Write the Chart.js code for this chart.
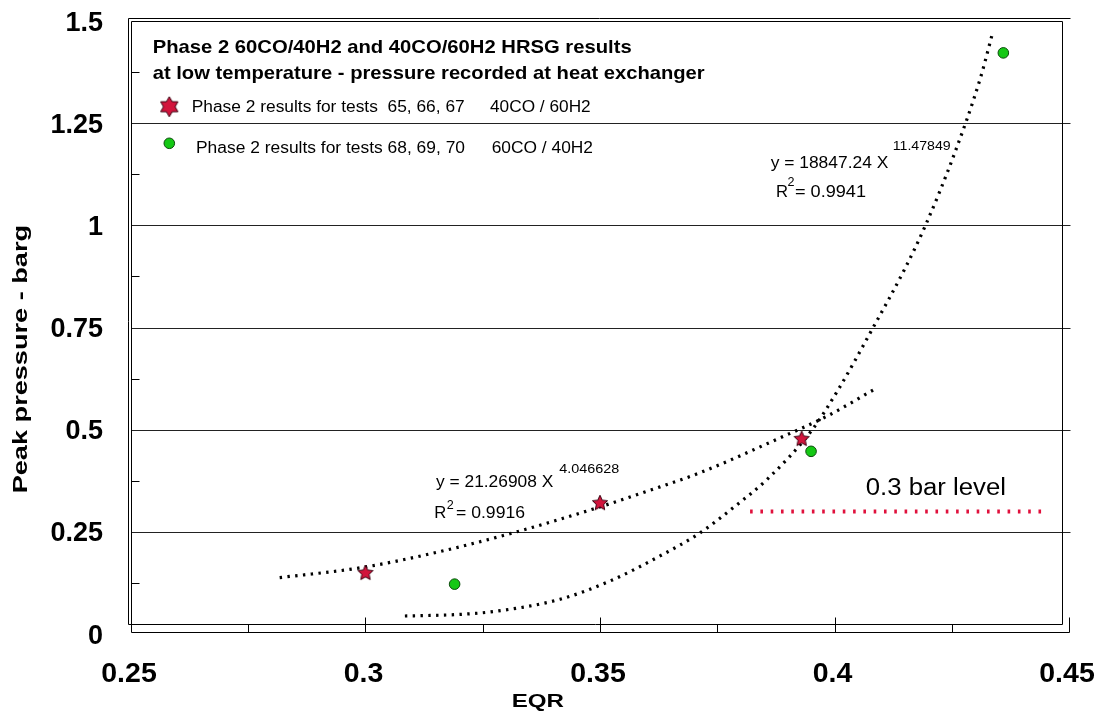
<!DOCTYPE html>
<html><head><meta charset="utf-8">
<script src="https://cdn.jsdelivr.net/npm/chart.js@4/dist/chart.umd.min.js"></script>
<style>html,body{margin:0;padding:0;background:#fff;}#wrap{width:1101px;height:713px;}</style>
</head><body><div id="wrap"><canvas id="c" width="1101" height="713"></canvas></div>
<script>
// ---- data ----
const redX = [0.300, 0.350, 0.393];
const redY = [0.149, 0.320, 0.477];
const greenX = [0.319, 0.395, 0.436];
const greenY = [0.122, 0.447, 1.422];
const redTrendX = [0.2817, 0.2989, 0.3145, 0.3316, 0.3486, 0.3628, 0.3714, 0.3884, 0.3984, 0.4087];
const redTrendY = [0.138, 0.162, 0.198, 0.248, 0.306, 0.360, 0.395, 0.480, 0.533, 0.600];
const greenTrendX = [0.3084, 0.3202, 0.3273, 0.3415, 0.3522, 0.3628, 0.3714, 0.3785, 0.3856, 0.3952, 0.4009, 0.4081, 0.4151, 0.4194, 0.4254, 0.4311, 0.4336];
const greenTrendY = [0.044, 0.048, 0.055, 0.085, 0.130, 0.191, 0.248, 0.310, 0.378, 0.499, 0.600, 0.747, 0.896, 1.000, 1.170, 1.360, 1.466];
const levelX = [0.382, 0.4455];
const levelY = [0.3, 0.3];
const xTickValues = [0.25, 0.3, 0.35, 0.4, 0.45];
const xTickLabels = ['0.25', '0.3', '0.35', '0.4', '0.45'];
const yTickValues = [0, 0.25, 0.5, 0.75, 1, 1.25, 1.5];
const yTickLabels = ['0', '0.25', '0.5', '0.75', '1', '1.25', '1.5'];
const titleLines = ['Phase 2 60CO/40H2 and 40CO/60H2 HRSG results', 'at low temperature - pressure recorded at heat exchanger'];
const legendLabels = ['Phase 2 results for tests  65, 66, 67', 'Phase 2 results for tests 68, 69, 70'];
const legendMixes = ['40CO / 60H2', '60CO / 40H2'];
const xTitle = 'EQR';
const yTitle = 'Peak pressure - barg';

const pts = (xs, ys) => xs.map((x, i) => ({x: x, y: ys[i]}));

function makeStar(n, R, r, size, fill, stroke) {
  const c = document.createElement('canvas');
  c.width = c.height = size;
  const g = c.getContext('2d');
  g.beginPath();
  for (let i = 0; i < 2 * n; i++) {
    const a = -Math.PI / 2 + i * Math.PI / n;
    const rad = i % 2 ? r : R;
    g.lineTo(size / 2 + rad * Math.cos(a), size / 2 + rad * Math.sin(a));
  }
  g.closePath();
  g.fillStyle = fill; g.fill();
  g.lineWidth = 1; g.strokeStyle = stroke; g.stroke();
  return c;
}
const RED = '#d2143c';
const GREEN = '#14c814';
const starImg = makeStar(5, 8, 3.8, 20, RED, '#3a0010');
const legendStarImg = makeStar(6, 10, 5.8, 24, RED, '#3a0010');

const FONT = '"Liberation Sans", Arial, sans-serif';
function fitText(ctx, txt, x, y, font, w) {
  ctx.font = font;
  const m = ctx.measureText(txt).width;
  ctx.save();
  ctx.translate(x, y);
  ctx.scale(w / m, 1);
  ctx.textAlign = 'left';
  ctx.textBaseline = 'alphabetic';
  ctx.fillText(txt, 0, 0);
  ctx.restore();
}

const framePlugin = {
  id: 'frame',
  beforeDatasetsDraw(chart) {
    const ctx = chart.ctx, ca = chart.chartArea, xs = chart.scales.x, ys = chart.scales.y;
    const L = ca.left, R = ca.right, T = ca.top, B = ca.bottom;
    const r = v => Math.round(v) + 0.5;
    ctx.save();
    ctx.strokeStyle = '#000';
    ctx.lineWidth = 1;
    const line = (x1, y1, x2, y2) => { ctx.beginPath(); ctx.moveTo(x1, y1); ctx.lineTo(x2, y2); ctx.stroke(); };
    const boxB = r(B - 10), axisY = r(B - 2);
    // grid lines
    ctx.strokeStyle = '#222';
    for (const v of yTickValues) {
      if (v <= 0 || v >= 1.5) continue;
      const y = r(ys.getPixelForValue(v));
      line(r(L), y, r(R + 1), y);
    }
    ctx.strokeStyle = '#000';
    // minor y ticks
    for (let k = 0; k < 6; k++) {
      const y = r(ys.getPixelForValue(0.125 + k * 0.25));
      line(r(L), y, r(L + 8), y);
    }
    // double frame left/top
    line(r(L - 3), r(T - 3), r(L - 3), boxB);
    line(r(L), r(T), r(L), boxB);
    line(r(L - 3), r(T - 3), r(R + 1), r(T - 3));
    line(r(L), r(T), r(R - 7), r(T));
    line(r(R - 7), r(T), r(R - 7), boxB);
    line(r(L - 3), boxB, r(R - 7), boxB);
    // x axis
    line(r(L), axisY, r(R), axisY);
    for (let k = 0; k <= 8; k++) {
      const v = 0.25 + k * 0.025;
      const x = r(xs.getPixelForValue(v));
      const major = (k % 2 === 0) && k > 0;
      line(x, major ? r(B - 17) : boxB, x, axisY);
    }
    // tick labels
    ctx.fillStyle = '#000';
    ctx.font = 'bold 28.5px ' + FONT;
    ctx.textAlign = 'center';
    ctx.textBaseline = 'alphabetic';
    xTickValues.forEach((v, i) => {
      ctx.fillText(xTickLabels[i], xs.getPixelForValue(v) - 2, 681.7);
    });
    ctx.font = 'bold 27px ' + FONT;
    ctx.textAlign = 'right';
    yTickValues.forEach((v, i) => {
      ctx.fillText(yTickLabels[i], 103, ys.getPixelForValue(v) + 9.5);
    });
    ctx.restore();
  },
  afterDatasetsDraw(chart) {
    const ctx = chart.ctx;
    ctx.save();
    ctx.fillStyle = '#000';
    // title inside plot
    fitText(ctx, titleLines[0], 152.7, 53.3, 'bold 18.5px ' + FONT, 479);
    fitText(ctx, titleLines[1], 152.7, 79.3, 'bold 18.5px ' + FONT, 552);
    // legend
    ctx.drawImage(legendStarImg, 169.3 - 12, 106.7 - 12);
    fitText(ctx, legendLabels[0], 191.7, 112.3, '15.8px ' + FONT, 273);
    fitText(ctx, legendMixes[0], 490, 111.5, '15.8px ' + FONT, 100.7);
    ctx.beginPath();
    ctx.arc(169.3, 143.3, 5.3, 0, Math.PI * 2);
    ctx.fillStyle = GREEN; ctx.fill();
    ctx.lineWidth = 1; ctx.strokeStyle = '#0a4a0a'; ctx.stroke();
    ctx.fillStyle = '#000';
    fitText(ctx, legendLabels[1], 196, 153.3, '15.8px ' + FONT, 269);
    fitText(ctx, legendMixes[1], 491.7, 153.3, '15.8px ' + FONT, 101.3);
    // trend equations
    fitText(ctx, 'y = 21.26908 X', 436, 486.7, '17px ' + FONT, 117.3);
    fitText(ctx, '4.046628', 559.3, 472.7, '13.5px ' + FONT, 60);
    fitText(ctx, 'R', 434.3, 517.7, '17px ' + FONT, 12);
    fitText(ctx, '2', 446.7, 509, '12px ' + FONT, 7);
    fitText(ctx, '= 0.9916', 456, 517.7, '17px ' + FONT, 69);
    fitText(ctx, 'y = 18847.24 X', 770.7, 168.3, '17px ' + FONT, 117.6);
    fitText(ctx, '11.47849', 892.7, 150, '13.5px ' + FONT, 58);
    fitText(ctx, 'R', 776, 196.7, '17px ' + FONT, 12);
    fitText(ctx, '2', 787.5, 186, '12px ' + FONT, 7);
    fitText(ctx, '= 0.9941', 795, 196.7, '17px ' + FONT, 71);
    // level label
    fitText(ctx, '0.3 bar level', 865.7, 495, '24.7px ' + FONT, 140.3);
    // axis titles
    fitText(ctx, xTitle, 511.7, 706.7, 'bold 18.6px ' + FONT, 52.3);
    ctx.save();
    ctx.translate(27.3, 493.3);
    ctx.rotate(-Math.PI / 2);
    fitText(ctx, yTitle, 0, 0, 'bold 19.5px ' + FONT, 268.3);
    ctx.restore();
    ctx.restore();
  }
};

const trendStyle = {
  type: 'line', showLine: true, pointRadius: 0, borderColor: '#000', borderWidth: 3.2,
  borderDash: [2.4, 5.4], borderCapStyle: 'butt', cubicInterpolationMode: 'monotone', fill: false, order: 2
};

new Chart(document.getElementById('c'), {
  type: 'scatter',
  data: {
    datasets: [
      { label: '40CO / 60H2', data: pts(redX, redY), pointStyle: starImg, pointRadius: 8, order: 0 },
      { label: '60CO / 40H2', data: pts(greenX, greenY), pointStyle: 'circle', pointRadius: 5.3,
        backgroundColor: GREEN, borderColor: '#0a4a0a', borderWidth: 1, order: 0 },
      Object.assign({ label: 'fit 40CO/60H2', data: pts(redTrendX, redTrendY) }, trendStyle),
      Object.assign({ label: 'fit 60CO/40H2', data: pts(greenTrendX, greenTrendY) }, trendStyle),
      { label: '0.3 bar level', type: 'line', data: pts(levelX, levelY), showLine: true, pointRadius: 0,
        borderColor: '#e0103c', borderWidth: 4, borderDash: [2.6, 7.7], borderCapStyle: 'butt', order: 1 }
    ]
  },
  options: {
    responsive: false,
    animation: false,
    events: [],
    layout: { padding: { left: 0, right: 32, top: 21, bottom: 0 } },
    plugins: { legend: { display: false }, tooltip: { enabled: false }, title: { display: false } },
    scales: {
      x: {
        type: 'linear', min: 0.25, max: 0.45,
        grid: { display: false }, border: { display: false },
        afterBuildTicks: s => { s.ticks = xTickValues.map(v => ({ value: v })); },
        afterFit: s => { s.height = 79; },
        ticks: { display: false }
      },
      y: {
        type: 'linear', min: 0, max: 1.5,
        grid: { display: false }, border: { display: false },
        afterBuildTicks: s => { s.ticks = yTickValues.map(v => ({ value: v })); },
        afterFit: s => { s.width = 131; },
        ticks: { display: false }
      }
    }
  },
  plugins: [framePlugin]
});
</script></body></html>
